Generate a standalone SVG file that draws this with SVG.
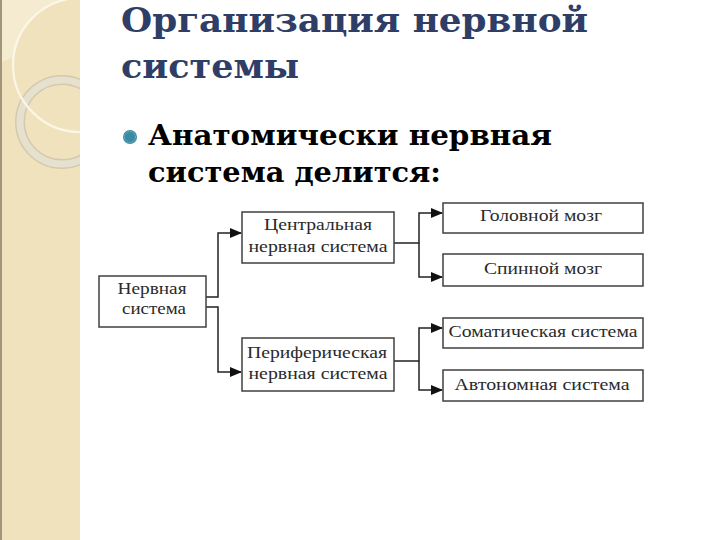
<svg xmlns="http://www.w3.org/2000/svg" width="720" height="540" viewBox="0 0 720 540">
<defs>
<style>
.box{fill:#fff;stroke:#404040;stroke-width:1.5}
.lbl{font-family:"Liberation Serif","Times New Roman",serif;font-size:16px;fill:#2a2a2a;text-anchor:middle}
.con{fill:none;stroke:#222;stroke-width:1.5}
.title{font-family:"DejaVu Serif","Liberation Serif",serif;font-weight:bold;font-size:34px;fill:#2f3e66}
.body{font-family:"DejaVu Serif","Liberation Serif",serif;font-weight:bold;font-size:27px;fill:#000}
</style>
<marker id="arr" markerWidth="12" markerHeight="10" refX="11" refY="5" orient="auto" markerUnits="userSpaceOnUse">
<path d="M0,0 L12,5 L0,10 Z" fill="#111"/>
</marker>
<clipPath id="sb"><rect x="0" y="0" width="80" height="540"/></clipPath>
</defs>
<rect width="720" height="540" fill="#fff"/>
<g id="sidebar" clip-path="url(#sb)">
<rect x="0" y="0" width="80" height="540" fill="#efe2bd"/>
<path d="M0,0 H64 A67,67 0 0 0 15,56 Q8,60 0,62 Z" fill="#f4ebd0"/>
<circle cx="62" cy="122" r="42" fill="none" stroke="#d3caae" stroke-width="10"/>
<circle cx="62" cy="122" r="42" fill="none" stroke="#e6e0cf" stroke-width="7"/>
<circle cx="80" cy="65" r="67" fill="none" stroke="#fbf6e6" stroke-width="2.2"/>
<rect x="0" y="0" width="2" height="540" fill="#a3957a"/>
</g>
<g id="title">
<text class="title" x="121" y="32" textLength="467" lengthAdjust="spacingAndGlyphs">Организация нервной</text>
<text class="title" x="121" y="78" textLength="178" lengthAdjust="spacingAndGlyphs">системы</text>
</g>
<g id="bullet">
<circle cx="130" cy="137" r="7" fill="#3a8aa3"/>
<circle cx="130" cy="137" r="5.5" fill="none" stroke="#8cc3d3" stroke-width="0.8" stroke-dasharray="1.5 1"/>
<text class="body" x="148" y="145" textLength="404" lengthAdjust="spacingAndGlyphs">Анатомически нервная</text>
<text class="body" x="148" y="182" textLength="293" lengthAdjust="spacingAndGlyphs">система делится:</text>
</g>
<g id="connectors">
<path class="con" d="M206,297 H218 V233 H241" marker-end="url(#arr)"/>
<path class="con" d="M206,307 H218 V372 H241" marker-end="url(#arr)"/>
<path class="con" d="M394,243 H419 V213 H442" marker-end="url(#arr)"/>
<path class="con" d="M419,243 V277 H442" marker-end="url(#arr)"/>
<path class="con" d="M394,361 H419 V328 H442" marker-end="url(#arr)"/>
<path class="con" d="M419,361 V390 H442" marker-end="url(#arr)"/>
</g>
<g id="node-nervnaya">
<rect class="box" x="99" y="276" width="107" height="51"/>
<text class="lbl" x="152" y="294" textLength="69" lengthAdjust="spacingAndGlyphs">Нервная</text>
<text class="lbl" x="154" y="314" textLength="64" lengthAdjust="spacingAndGlyphs">система</text>
</g>
<g id="node-central">
<rect class="box" x="242" y="212" width="152" height="51"/>
<text class="lbl" x="318" y="230" textLength="108" lengthAdjust="spacingAndGlyphs">Центральная</text>
<text class="lbl" x="318" y="252" textLength="139" lengthAdjust="spacingAndGlyphs">нервная система</text>
</g>
<g id="node-peripheral">
<rect class="box" x="242" y="338" width="152" height="53"/>
<text class="lbl" x="317" y="358" textLength="140" lengthAdjust="spacingAndGlyphs">Периферическая</text>
<text class="lbl" x="318" y="379" textLength="139" lengthAdjust="spacingAndGlyphs">нервная система</text>
</g>
<g id="node-brain">
<rect class="box" x="443" y="203" width="200" height="30"/>
<text class="lbl" x="541" y="221" textLength="122" lengthAdjust="spacingAndGlyphs">Головной мозг</text>
</g>
<g id="node-spinal">
<rect class="box" x="443" y="254" width="200" height="32"/>
<text class="lbl" x="543" y="274" textLength="118" lengthAdjust="spacingAndGlyphs">Спинной мозг</text>
</g>
<g id="node-somatic">
<rect class="box" x="443" y="318" width="200" height="30"/>
<text class="lbl" x="543" y="337" textLength="189" lengthAdjust="spacingAndGlyphs">Соматическая система</text>
</g>
<g id="node-autonomic">
<rect class="box" x="443" y="370" width="200" height="31"/>
<text class="lbl" x="542" y="390" textLength="175" lengthAdjust="spacingAndGlyphs">Автономная система</text>
</g>
</svg>
